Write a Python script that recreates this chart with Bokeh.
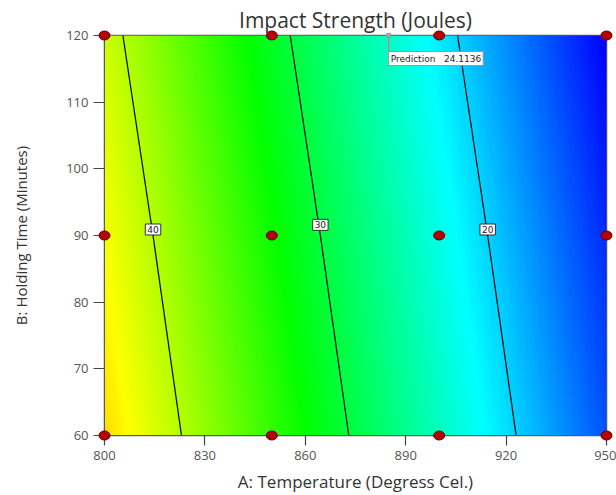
import numpy as np
from bokeh.plotting import figure
from bokeh.models import Label, Range1d, LinearColorMapper
from bokeh.embed import file_html
from bokeh.resources import INLINE

# ---- data ----
TEMPS = [800, 850, 900, 950]          # A: Temperature grid
TIMES = [60, 90, 120]                 # B: Holding time grid
Z_60 = [44.6, 34.6, 24.6, 14.6]       # response at B=60
Z_90 = [42.9, 32.9, 22.9, 12.9]       # response at B=90
Z_120 = [41.1, 31.1, 21.1, 11.1]      # response at B=120
CONTOUR_LEVELS = [20, 30, 40]
CONTOUR_TEXT = ["20", "30", "40"]
LABEL_B = [90.9, 91.6, 90.9]
DESIGN_A = [800, 850, 900, 950, 800, 850, 900, 950, 800, 850, 900, 950]
DESIGN_B = [120, 120, 120, 120, 90, 90, 90, 90, 60, 60, 60, 60]
PRED_A = 884.9
PRED_B = 120
PRED_TEXT = "Prediction\u00a0\u00a0 24.1136"
X_TICKS = [800, 830, 860, 890, 920, 950]
Y_TICKS = [60, 70, 80, 90, 100, 110, 120]
COLOR_LOW = 11.1    # value drawn blue
COLOR_HIGH = 53.9   # value drawn red

FONT = "Open Sans"
SMALL_FONT = "DejaVu Sans"

# ---- colour scale: blue -> cyan -> green -> yellow -> red ----
ANCHORS = np.array([[0, 0, 255], [0, 255, 255], [0, 255, 0], [255, 255, 0], [255, 0, 0]], float)


def to_color(f):
    f = min(max(f, 0.0), 1.0) * 4
    i = min(int(f), 3)
    t = f - i
    c = ANCHORS[i] * (1 - t) + ANCHORS[i + 1] * t
    return "#%02x%02x%02x" % tuple(int(round(x)) for x in c)


palette = [to_color(k / 255.0) for k in range(256)]
mapper = LinearColorMapper(palette=palette, low=COLOR_LOW, high=COLOR_HIGH)

Z = np.array([Z_60, Z_90, Z_120])
XX, YY = np.meshgrid(np.array(TEMPS, float), np.array(TIMES, float))

# smooth surface: bilinear resampling of the read grid for display
fa = np.linspace(TEMPS[0], TEMPS[-1], 451)
fb = np.linspace(TIMES[0], TIMES[-1], 241)
rows = np.array([np.interp(fa, TEMPS, r) for r in Z])
surf = np.array([np.interp(fb, TIMES, rows[:, j]) for j in range(len(fa))]).T

p = figure(width=616, height=495, x_range=Range1d(800, 950), y_range=Range1d(60, 120),
           output_backend="svg", toolbar_location=None,
           min_border_left=104, min_border_right=10, min_border_top=35, min_border_bottom=60,
           title="Impact Strength (Joules)")

p.title.align = "center"
p.title.text_font = FONT
p.title.text_font_size = "21px"
p.title.text_font_style = "normal"
p.title.text_color = "#333333"
p.title.standoff = 4

p.xgrid.visible = False
p.ygrid.visible = False
p.outline_line_color = "#5a5a5a"
p.outline_line_width = 1.5
p.background_fill_color = "white"
p.border_fill_color = "white"

# gradient surface
p.image(image=[surf], x=TEMPS[0], y=TIMES[0], dw=TEMPS[-1] - TEMPS[0], dh=TIMES[-1] - TIMES[0],
        color_mapper=mapper)

# contour lines
p.contour(XX, YY, Z, levels=CONTOUR_LEVELS, line_color="#111111", line_width=1.3)

# contour labels placed on the B=90 row
label_a = [float(np.interp(L, Z_90[::-1], TEMPS[::-1])) for L in CONTOUR_LEVELS]
for xa, yb, txt in zip(label_a, LABEL_B, CONTOUR_TEXT):
    p.add_layout(Label(x=xa, y=yb, text=txt,
                       text_align="center", text_baseline="middle",
                       text_font=SMALL_FONT, text_font_size="9px", text_color="#222222",
                       background_fill_color="white", border_line_color="#333333",
                       border_line_width=1, padding=2))

# design points
dp = p.ellipse(DESIGN_A, DESIGN_B, width=11, height=9, width_units="screen", height_units="screen",
               fill_color="#b30000", line_color="#600000", line_width=1)
dp.level = "overlay"

# prediction flag
drop = 16 * (TIMES[-1] - TIMES[0]) / 400.0
seg = p.segment(x0=[PRED_A], y0=[PRED_B], x1=[PRED_A], y1=[PRED_B - drop],
                line_color="#999999", line_width=1.5)
seg.level = "overlay"
pm = p.scatter([PRED_A], [PRED_B], size=4, marker="square",
               fill_color="#aaaaaa", line_color="#999999")
pm.level = "overlay"
p.add_layout(Label(x=PRED_A, y=PRED_B, y_offset=-16, text=PRED_TEXT,
                   text_align="left", text_baseline="top",
                   text_font=SMALL_FONT, text_font_size="9px", text_color="#222222",
                   background_fill_color="white", border_line_color="#999999",
                   border_line_width=1, padding=2))

# axes
for ax in (p.xaxis, p.yaxis):
    ax.minor_tick_line_color = None
    ax.major_tick_in = 0
    ax.axis_line_color = "#5a5a5a"
    ax.major_tick_line_color = "#444444"
    ax.major_tick_line_width = 1.2
    ax.major_label_text_font = FONT
    ax.major_label_text_font_size = "13px"
    ax.major_label_text_color = "#555555"
    ax.axis_label_text_font = FONT
    ax.axis_label_text_font_style = "normal"
    ax.axis_label_text_color = "#333333"

p.xaxis.ticker = X_TICKS
p.yaxis.ticker = Y_TICKS
p.xaxis.major_tick_out = 10
p.xaxis.major_label_standoff = 5
p.xaxis.axis_label_standoff = 7
p.xaxis.axis_label_text_font_size = "17px"
p.yaxis.major_tick_out = 11
p.yaxis.major_label_standoff = 5
p.yaxis.axis_label_standoff = 32
p.yaxis.axis_label_text_font_size = "15px"
p.xaxis.axis_label = "A: Temperature (Degress Cel.)"
p.yaxis.axis_label = "B: Holding Time (Minutes)"

open("out.html", "w").write(file_html(p, INLINE))
